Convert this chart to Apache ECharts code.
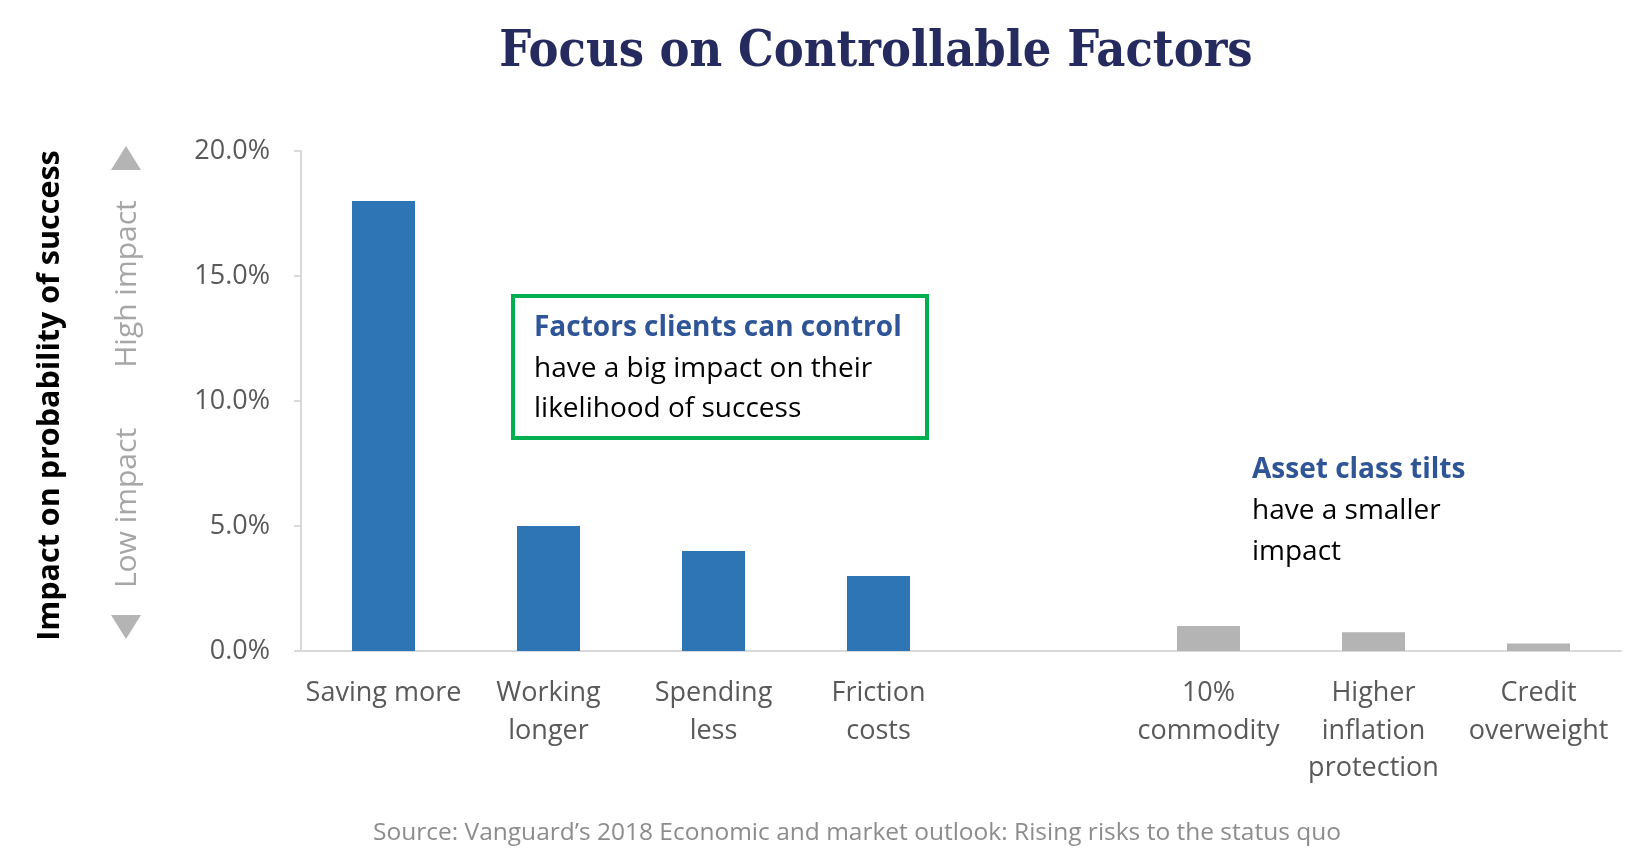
<!DOCTYPE html>
<html><head><meta charset="utf-8">
<script src="https://cdn.jsdelivr.net/npm/echarts@6/dist/echarts.min.js"></script>
<style>html,body{margin:0;padding:0;background:#fff}#c{width:1650px;height:868px}</style>
</head><body><div id="c"></div>
<script>
const categories = ['Saving more', 'Working\nlonger', 'Spending\nless', 'Friction\ncosts', '', '10%\ncommodity', 'Higher\ninflation\nprotection', 'Credit\noverweight'];
const controllableValues = [18.0, 5.0, 4.0, 3.0, null, null, null, null];
const assetTiltValues = [null, null, null, null, null, 1.0, 0.75, 0.3];
const yMin = 0, yMax = 20, yStep = 5;
const titleText = 'Focus on Controllable Factors';
const yAxisTitle = 'Impact on probability of success';
const sourceText = 'Source: Vanguard\u2019s 2018 Economic and market outlook: Rising risks to the status quo';

const FONT = '"Open Sans", "Noto Sans", sans-serif';
const chart = echarts.init(document.getElementById('c'), null, {renderer: 'canvas'});
chart.setOption({
  animation: false,
  backgroundColor: '#ffffff',
  grid: {left: 301, right: 29, top: 151, bottom: 217, containLabel: false},
  xAxis: {
    type: 'category',
    data: categories,
    axisLine: {lineStyle: {color: '#d9d9d9', width: 2}},
    axisTick: {show: false},
    axisLabel: {interval: 0, color: '#595959', fontFamily: FONT, fontSize: 27, lineHeight: 37.5, margin: 24}
  },
  yAxis: {
    type: 'value',
    min: yMin, max: yMax, interval: yStep,
    name: yAxisTitle,
    nameLocation: 'middle',
    nameRotate: 90,
    nameGap: 235,
    nameTextStyle: {color: '#000000', fontFamily: FONT, fontWeight: 'bold', fontSize: 30.5, padding: [0, 0, 0, 11]},
    splitLine: {show: false},
    axisLine: {show: true, lineStyle: {color: '#d9d9d9', width: 2}},
    axisTick: {show: true, inside: false, length: 7, lineStyle: {color: '#d9d9d9', width: 2}},
    axisLabel: {color: '#595959', fontFamily: FONT, fontSize: 27, margin: 31,
      formatter: v => v.toFixed(1) + '%'}
  },
  series: [
    {type: 'bar', name: 'Controllable', data: controllableValues, barWidth: 63, barGap: '-100%',
      itemStyle: {color: '#2e75b6'}},
    {type: 'bar', name: 'Asset tilts', data: assetTiltValues, barWidth: 63, barGap: '-100%',
      itemStyle: {color: '#b4b4b4'}}
  ],
  graphic: [
    {type: 'text', x: 876, y: 53, style: {text: titleText, fill: '#262b5f', font: 'bold 50px "DejaVu Serif Condensed", "DejaVu Serif", serif', textAlign: 'center', textVerticalAlign: 'middle'}},
    {type: 'polygon', shape: {points: [[126, 146], [111, 170], [141, 170]]}, style: {fill: '#b4b4b4'}},
    {type: 'polygon', shape: {points: [[111, 615], [141, 615], [126, 639]]}, style: {fill: '#b4b4b4'}},
    {type: 'text', x: 127, y: 284, rotation: Math.PI / 2, style: {text: 'High impact', fill: '#a6a6a6', font: '30px ' + FONT, textAlign: 'center', textVerticalAlign: 'middle'}},
    {type: 'text', x: 127, y: 508, rotation: Math.PI / 2, style: {text: 'Low impact', fill: '#a6a6a6', font: '30px ' + FONT, textAlign: 'center', textVerticalAlign: 'middle'}},
    {type: 'rect', shape: {x: 513, y: 296, width: 414, height: 142}, style: {fill: '#ffffff', stroke: '#00b050', lineWidth: 4}},
    {type: 'text', x: 534, y: 369, style: {
      text: '{b|Factors clients can control}\n{n|have a big impact on their}\n{n|likelihood of success}',
      textVerticalAlign: 'middle',
      rich: {
        b: {fill: '#2f5597', font: 'bold 28px ' + FONT, lineHeight: 40.5},
        n: {fill: '#000000', font: '28px ' + FONT, lineHeight: 40.5}
      }}},
    {type: 'text', x: 1252, y: 511, style: {
      text: '{b|Asset class tilts}\n{n|have a smaller}\n{n|impact}',
      textVerticalAlign: 'middle',
      rich: {
        b: {fill: '#2f5597', font: 'bold 28px ' + FONT, lineHeight: 41},
        n: {fill: '#000000', font: '28px ' + FONT, lineHeight: 41}
      }}},
    {type: 'text', x: 857, y: 833, style: {text: sourceText, fill: '#8c8c8c', font: '24.5px ' + FONT, textAlign: 'center', textVerticalAlign: 'middle'}}
  ]
});
</script></body></html>
